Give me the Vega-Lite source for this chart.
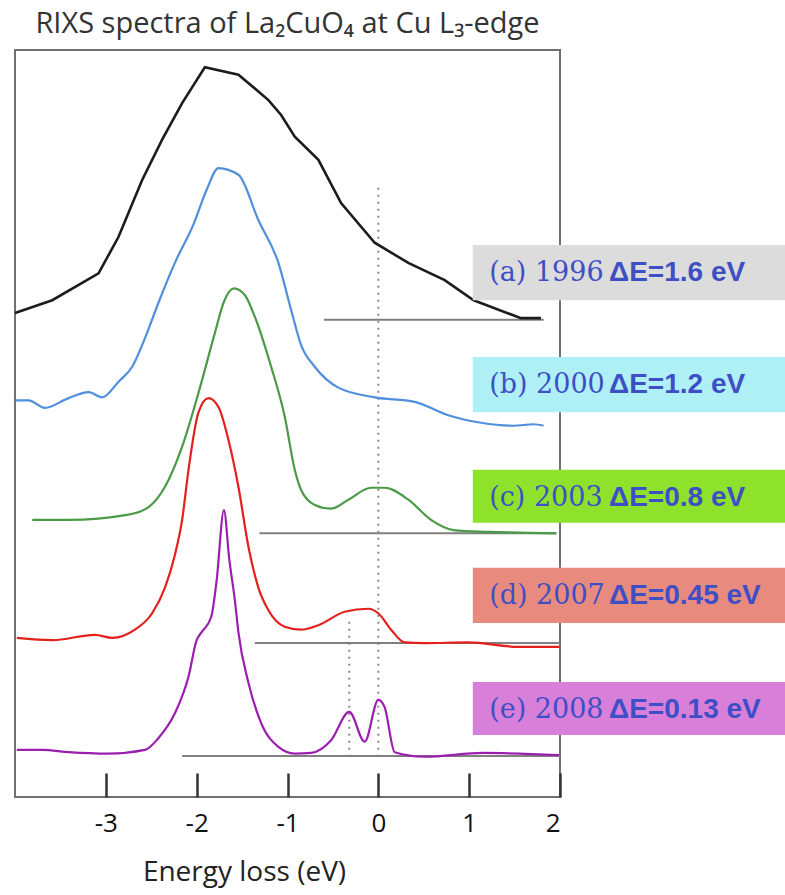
{
  "$schema": "https://vega.github.io/schema/vega-lite/v6.json",
  "width": 545,
  "height": 747,
  "autosize": {"type": "none"},
  "padding": {"left": 15, "top": 50, "right": 225, "bottom": 98},
  "background": "white",
  "config": {
    "view": {"stroke": "#707070", "strokeWidth": 2},
    "font": "Open Sans"
  },
  "title": {
    "text": "RIXS spectra of La₂CuO₄ at Cu L₃-edge",
    "font": "Open Sans",
    "fontSize": 29,
    "fontWeight": "normal",
    "color": "#333333",
    "anchor": "middle",
    "offset": 11
  },
  "datasets": {
    "spectra": [
      {"year": "1996", "E": -4.0, "I": 64.8},
      {"year": "1996", "E": -3.59, "I": 66.5},
      {"year": "1996", "E": -3.08, "I": 70.1},
      {"year": "1996", "E": -2.86, "I": 75.0},
      {"year": "1996", "E": -2.6, "I": 82.6},
      {"year": "1996", "E": -2.38, "I": 88.0},
      {"year": "1996", "E": -2.16, "I": 92.9},
      {"year": "1996", "E": -1.91, "I": 97.7},
      {"year": "1996", "E": -1.54, "I": 96.7},
      {"year": "1996", "E": -1.21, "I": 93.3},
      {"year": "1996", "E": -1.07, "I": 91.3},
      {"year": "1996", "E": -0.92, "I": 88.4},
      {"year": "1996", "E": -0.66, "I": 85.3},
      {"year": "1996", "E": -0.41, "I": 79.5},
      {"year": "1996", "E": -0.04, "I": 74.2},
      {"year": "1996", "E": 0.33, "I": 71.5},
      {"year": "1996", "E": 0.73, "I": 69.2},
      {"year": "1996", "E": 1.05, "I": 66.5},
      {"year": "1996", "E": 1.57, "I": 64.1},
      {"year": "1996", "E": 1.79, "I": 64.1},

      {"year": "2000", "E": -4.0, "I": 53.1},
      {"year": "2000", "E": -3.85, "I": 53.1},
      {"year": "2000", "E": -3.67, "I": 52.1},
      {"year": "2000", "E": -3.41, "I": 53.4},
      {"year": "2000", "E": -3.19, "I": 54.2},
      {"year": "2000", "E": -3.04, "I": 53.5},
      {"year": "2000", "E": -2.86, "I": 55.6},
      {"year": "2000", "E": -2.71, "I": 57.6},
      {"year": "2000", "E": -2.57, "I": 61.4},
      {"year": "2000", "E": -2.41, "I": 66.5},
      {"year": "2000", "E": -2.24, "I": 71.5},
      {"year": "2000", "E": -2.03, "I": 76.8},
      {"year": "2000", "E": -1.89, "I": 81.3},
      {"year": "2000", "E": -1.76, "I": 84.2},
      {"year": "2000", "E": -1.54, "I": 83.3},
      {"year": "2000", "E": -1.32, "I": 77.2},
      {"year": "2000", "E": -1.1, "I": 71.5},
      {"year": "2000", "E": -0.96, "I": 65.2},
      {"year": "2000", "E": -0.85, "I": 60.5},
      {"year": "2000", "E": -0.7, "I": 57.6},
      {"year": "2000", "E": -0.44, "I": 54.8},
      {"year": "2000", "E": -0.04, "I": 53.5},
      {"year": "2000", "E": 0.4, "I": 52.9},
      {"year": "2000", "E": 0.77, "I": 51.1},
      {"year": "2000", "E": 1.13, "I": 50.1},
      {"year": "2000", "E": 1.49, "I": 49.7},
      {"year": "2000", "E": 1.71, "I": 49.9},
      {"year": "2000", "E": 1.82, "I": 49.7},

      {"year": "2003", "E": -3.81, "I": 37.1},
      {"year": "2003", "E": -3.41, "I": 37.1},
      {"year": "2003", "E": -2.75, "I": 37.8},
      {"year": "2003", "E": -2.53, "I": 38.8},
      {"year": "2003", "E": -2.35, "I": 41.5},
      {"year": "2003", "E": -2.16, "I": 46.9},
      {"year": "2003", "E": -1.98, "I": 54.1},
      {"year": "2003", "E": -1.8, "I": 62.1},
      {"year": "2003", "E": -1.7, "I": 66.3},
      {"year": "2003", "E": -1.59, "I": 68.1},
      {"year": "2003", "E": -1.47, "I": 67.2},
      {"year": "2003", "E": -1.36, "I": 64.3},
      {"year": "2003", "E": -1.18, "I": 57.6},
      {"year": "2003", "E": -1.03, "I": 50.9},
      {"year": "2003", "E": -0.92, "I": 43.8},
      {"year": "2003", "E": -0.85, "I": 41.1},
      {"year": "2003", "E": -0.7, "I": 39.1},
      {"year": "2003", "E": -0.52, "I": 38.6},
      {"year": "2003", "E": -0.33, "I": 39.8},
      {"year": "2003", "E": -0.08, "I": 41.4},
      {"year": "2003", "E": 0.07, "I": 41.4},
      {"year": "2003", "E": 0.33, "I": 39.8},
      {"year": "2003", "E": 0.58, "I": 37.1},
      {"year": "2003", "E": 0.84, "I": 35.7},
      {"year": "2003", "E": 1.21, "I": 35.5},
      {"year": "2003", "E": 1.96, "I": 35.3},

      {"year": "2007", "E": -3.98, "I": 21.3},
      {"year": "2007", "E": -3.59, "I": 21.0},
      {"year": "2007", "E": -3.12, "I": 21.7},
      {"year": "2007", "E": -2.93, "I": 21.3},
      {"year": "2007", "E": -2.68, "I": 22.4},
      {"year": "2007", "E": -2.49, "I": 24.6},
      {"year": "2007", "E": -2.35, "I": 28.0},
      {"year": "2007", "E": -2.24, "I": 32.4},
      {"year": "2007", "E": -2.16, "I": 37.1},
      {"year": "2007", "E": -2.09, "I": 43.8},
      {"year": "2007", "E": -1.98, "I": 51.5},
      {"year": "2007", "E": -1.87, "I": 53.4},
      {"year": "2007", "E": -1.76, "I": 52.2},
      {"year": "2007", "E": -1.65, "I": 47.8},
      {"year": "2007", "E": -1.54, "I": 41.5},
      {"year": "2007", "E": -1.43, "I": 33.5},
      {"year": "2007", "E": -1.32, "I": 28.0},
      {"year": "2007", "E": -1.21, "I": 25.0},
      {"year": "2007", "E": -1.03, "I": 22.8},
      {"year": "2007", "E": -0.85, "I": 22.4},
      {"year": "2007", "E": -0.66, "I": 23.0},
      {"year": "2007", "E": -0.37, "I": 24.8},
      {"year": "2007", "E": -0.11, "I": 25.2},
      {"year": "2007", "E": 0.0, "I": 24.6},
      {"year": "2007", "E": 0.14, "I": 22.4},
      {"year": "2007", "E": 0.29, "I": 20.7},
      {"year": "2007", "E": 0.51, "I": 20.6},
      {"year": "2007", "E": 0.99, "I": 20.7},
      {"year": "2007", "E": 1.54, "I": 20.1},
      {"year": "2007", "E": 1.99, "I": 20.1},

      {"year": "2008", "E": -3.98, "I": 6.3},
      {"year": "2008", "E": -3.7, "I": 6.3},
      {"year": "2008", "E": -3.41, "I": 6.0},
      {"year": "2008", "E": -2.97, "I": 5.8},
      {"year": "2008", "E": -2.57, "I": 6.3},
      {"year": "2008", "E": -2.42, "I": 7.9},
      {"year": "2008", "E": -2.24, "I": 11.2},
      {"year": "2008", "E": -2.09, "I": 16.1},
      {"year": "2008", "E": -2.0, "I": 21.0},
      {"year": "2008", "E": -1.95, "I": 22.0},
      {"year": "2008", "E": -1.84, "I": 24.1},
      {"year": "2008", "E": -1.78, "I": 29.0},
      {"year": "2008", "E": -1.7, "I": 38.4},
      {"year": "2008", "E": -1.64, "I": 31.7},
      {"year": "2008", "E": -1.58, "I": 26.4},
      {"year": "2008", "E": -1.54, "I": 22.0},
      {"year": "2008", "E": -1.43, "I": 15.3},
      {"year": "2008", "E": -1.29, "I": 9.9},
      {"year": "2008", "E": -1.1, "I": 6.7},
      {"year": "2008", "E": -0.92, "I": 5.8},
      {"year": "2008", "E": -0.74, "I": 5.9},
      {"year": "2008", "E": -0.52, "I": 7.6},
      {"year": "2008", "E": -0.32, "I": 11.4},
      {"year": "2008", "E": -0.15, "I": 7.4},
      {"year": "2008", "E": 0.0, "I": 13.0},
      {"year": "2008", "E": 0.07, "I": 12.0},
      {"year": "2008", "E": 0.18, "I": 6.0},
      {"year": "2008", "E": 0.51, "I": 5.4},
      {"year": "2008", "E": 1.16, "I": 5.9},
      {"year": "2008", "E": 1.99, "I": 5.6}
    ],
    "baselines": [
      {"year": "1996", "from": -0.6, "to": 1.82, "level": 63.9},
      {"year": "2003", "from": -1.31, "to": 1.96, "level": 35.3},
      {"year": "2007", "from": -1.36, "to": 2.0, "level": 20.6},
      {"year": "2008", "from": -2.16, "to": 2.0, "level": 5.5}
    ],
    "markers": [
      {"E": 0.0, "low": 5.4, "high": 81.9},
      {"E": -0.32, "low": 5.4, "high": 23.7}
    ],
    "labels": [
      {"year": "1996", "tag": "(a) 1996", "res": "ΔE=1.6 eV", "top": 73.9, "bottom": 66.5},
      {"year": "2000", "tag": "(b) 2000", "res": "ΔE=1.2 eV", "top": 58.9, "bottom": 51.5},
      {"year": "2003", "tag": "(c) 2003", "res": "ΔE=0.8 eV", "top": 43.8, "bottom": 36.7},
      {"year": "2007", "tag": "(d) 2007", "res": "ΔE=0.45 eV", "top": 30.7, "bottom": 23.3},
      {"year": "2008", "tag": "(e) 2008", "res": "ΔE=0.13 eV", "top": 15.4, "bottom": 8.3}
    ]
  },
  "layer": [
    {
      "data": {"name": "markers"},
      "mark": {"type": "rule", "color": "#8a8a8a", "strokeWidth": 2, "strokeDash": [2, 5]},
      "encoding": {
        "x": {"field": "E", "type": "quantitative"},
        "y": {"field": "low", "type": "quantitative"},
        "y2": {"field": "high"}
      }
    },
    {
      "data": {"name": "baselines"},
      "mark": {"type": "rule", "color": "#808080", "strokeWidth": 2},
      "encoding": {
        "x": {"field": "from", "type": "quantitative"},
        "x2": {"field": "to"},
        "y": {"field": "level", "type": "quantitative"}
      }
    },
    {
      "data": {"name": "spectra"},
      "transform": [{"filter": "datum.year === '1996'"}],
      "mark": {"type": "line", "color": "#1c1c1c", "strokeWidth": 2.6},
      "encoding": {
        "x": {"field": "E", "type": "quantitative"},
        "y": {"field": "I", "type": "quantitative"}
      }
    },
    {
      "data": {"name": "spectra"},
      "transform": [{"filter": "datum.year !== '1996'"}],
      "mark": {"type": "line", "interpolate": "monotone"},
      "encoding": {
        "x": {"field": "E", "type": "quantitative"},
        "y": {"field": "I", "type": "quantitative"},
        "color": {
          "field": "year",
          "type": "nominal",
          "scale": {
            "domain": ["2000", "2003", "2007", "2008"],
            "range": ["#4f8fdc", "#4b9a48", "#e3201c", "#9a1fae"]
          },
          "legend": null
        },
        "strokeWidth": {
          "field": "year",
          "type": "nominal",
          "scale": {
            "domain": ["2000", "2003", "2007", "2008"],
            "range": [2.2, 2.2, 3.6, 3.0]
          },
          "legend": null
        }
      }
    },
    {
      "data": {"name": "labels"},
      "mark": {"type": "rect"},
      "encoding": {
        "x": {"datum": 1.04},
        "x2": {"datum": 4.6},
        "y": {"field": "top", "type": "quantitative"},
        "y2": {"field": "bottom"},
        "fill": {
          "field": "year",
          "type": "nominal",
          "scale": {
            "domain": ["1996", "2000", "2003", "2007", "2008"],
            "range": ["#dcdcdc", "#aef0f6", "#8fe22b", "#e98a7e", "#d87fd9"]
          },
          "legend": null
        }
      }
    },
    {
      "data": {"name": "labels"},
      "mark": {"type": "text", "align": "left", "baseline": "middle", "font": "DejaVu Serif", "fontSize": 27, "color": "#3e4fc6", "dy": 28},
      "encoding": {
        "x": {"datum": 1.22},
        "y": {"field": "top", "type": "quantitative"},
        "text": {"field": "tag"}
      }
    },
    {
      "data": {"name": "labels"},
      "mark": {"type": "text", "align": "left", "baseline": "middle", "font": "Liberation Sans", "fontWeight": "bold", "fontSize": 28, "color": "#3e4fc6", "dy": 28},
      "encoding": {
        "x": {"datum": 2.54},
        "y": {"field": "top", "type": "quantitative"},
        "text": {"field": "res"}
      }
    }
  ],
  "resolve": {"scale": {"color": "independent", "strokeWidth": "independent", "fill": "independent"}},
  "encoding": {
    "x": {
      "type": "quantitative",
      "scale": {"domain": [-4, 2], "nice": false, "zero": false},
      "axis": {
        "values": [-3, -2, -1, 0, 1, 2],
        "labelExpr": "replace(datum.label, '−', '-')",
        "domain": false,
        "grid": false,
        "tickSize": -24,
        "tickWidth": 2.5,
        "tickColor": "#333333",
        "labelFont": "Open Sans",
        "labelFontSize": 26,
        "labelColor": "#111111",
        "labelPadding": 37,
        "title": "Energy loss (eV)",
        "titleFont": "Open Sans",
        "titleFontSize": 28,
        "titleFontWeight": "normal",
        "titleColor": "#222222",
        "titleX": 229,
        "titleY": 83,
        "titleBaseline": "alphabetic"
      }
    },
    "y": {
      "type": "quantitative",
      "scale": {"domain": [0, 100], "nice": false, "zero": false},
      "axis": null
    }
  }
}
